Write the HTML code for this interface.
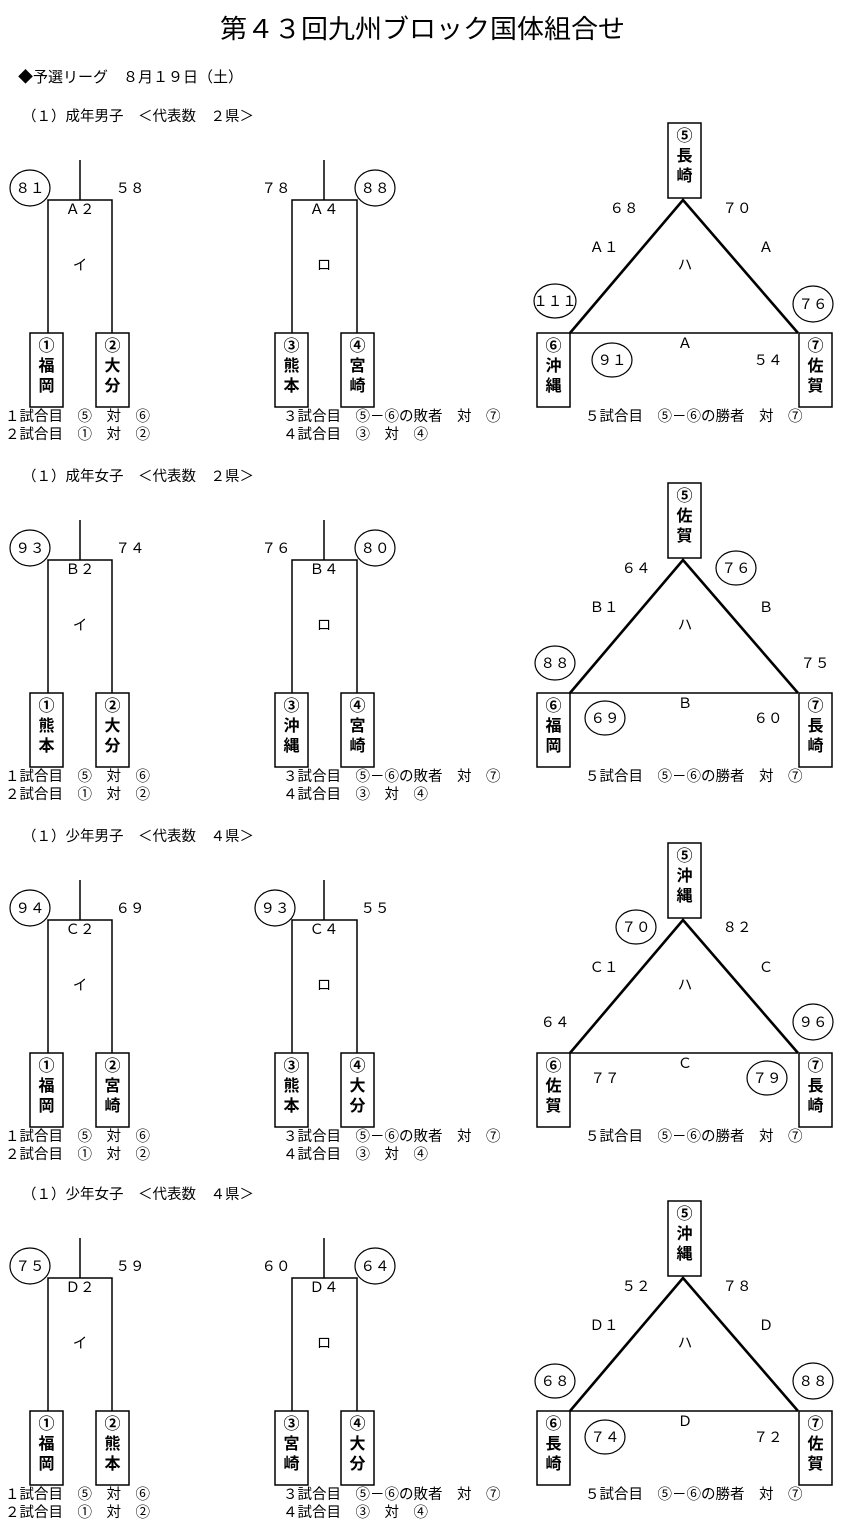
<!DOCTYPE html>
<html><head><meta charset="utf-8"><style>
html,body{margin:0;padding:0;background:#fff;}
svg{display:block;}
text{font-family:"Liberation Sans","Noto Sans CJK JP",sans-serif;fill:#000;}
.t{font-size:14.5px;}
.b{font-size:16px;font-weight:bold;text-anchor:middle;}
.c{text-anchor:middle;}
.ln{fill:none;stroke:#000;stroke-width:1.5;}
.tri{fill:none;stroke:#000;stroke-width:2.6;}
.bx{fill:#fff;stroke:#000;stroke-width:1.5;}
.ci{fill:none;stroke:#000;stroke-width:1.2;}
</style></head><body>
<svg width="848" height="1536" viewBox="0 0 848 1536" xmlns="http://www.w3.org/2000/svg">
<text x="220" y="38" style="font-size:26px" textLength="405" lengthAdjust="spacingAndGlyphs">第４３回九州ブロック国体組合せ</text>
<text x="18" y="82" style="font-size:15px">◆予選リーグ　８月１９日（土）</text>

<!-- Section 1 -->
<g>
<text x="22" y="121" class="t">（１）成年男子　＜代表数　２県＞</text>
<path class="ln" d="M80 160V200M48 333V200H112V333M324 160V200M292 333V200H357V333M570 333H798"/>
<path class="tri" d="M570 333L683 200L798 333"/>
<rect class="bx" x="30" y="333" width="33" height="74"/><text class="b" x="46.5" y="351">①</text><text class="b" x="46.5" y="371">福</text><text class="b" x="46.5" y="391">岡</text>
<rect class="bx" x="96" y="333" width="33" height="74"/><text class="b" x="112.5" y="351">②</text><text class="b" x="112.5" y="371">大</text><text class="b" x="112.5" y="391">分</text>
<rect class="bx" x="275" y="333" width="33" height="74"/><text class="b" x="291.5" y="351">③</text><text class="b" x="291.5" y="371">熊</text><text class="b" x="291.5" y="391">本</text>
<rect class="bx" x="341" y="333" width="33" height="74"/><text class="b" x="357.5" y="351">④</text><text class="b" x="357.5" y="371">宮</text><text class="b" x="357.5" y="391">崎</text>
<rect class="bx" x="668" y="123" width="33" height="75"/><text class="b" x="684.5" y="141">⑤</text><text class="b" x="684.5" y="161">長</text><text class="b" x="684.5" y="181">崎</text>
<rect class="bx" x="537" y="333" width="33" height="74"/><text class="b" x="553.5" y="351">⑥</text><text class="b" x="553.5" y="371">沖</text><text class="b" x="553.5" y="391">縄</text>
<rect class="bx" x="799" y="333" width="33" height="74"/><text class="b" x="815.5" y="351">⑦</text><text class="b" x="815.5" y="371">佐</text><text class="b" x="815.5" y="391">賀</text>
<ellipse class="ci" cx="30" cy="188" rx="20" ry="18"/><text class="t c" x="30" y="193">８１</text>
<text class="t c" x="130" y="193">５８</text><text class="t c" x="80" y="214">Ａ２</text><text class="t c" x="80" y="270">イ</text>
<text class="t c" x="276" y="193">７８</text>
<ellipse class="ci" cx="375" cy="188" rx="20" ry="18"/><text class="t c" x="375" y="193">８８</text>
<text class="t c" x="324" y="214">Ａ４</text><text class="t c" x="324" y="270">ロ</text>
<text class="t c" x="624" y="213">６８</text><text class="t c" x="737" y="213">７０</text>
<text class="t c" x="604" y="252">Ａ１</text><text class="t c" x="766" y="252">Ａ</text><text class="t c" x="685" y="270">ハ</text>
<ellipse class="ci" cx="555" cy="301" rx="21" ry="17"/><text class="t c" x="555" y="306">１１１</text>
<ellipse class="ci" cx="813" cy="304" rx="20" ry="18"/><text class="t c" x="813" y="309">７６</text>
<text class="t c" x="685" y="348">Ａ</text>
<ellipse class="ci" cx="612" cy="360" rx="20" ry="17"/><text class="t c" x="612" y="365">９１</text>
<text class="t c" x="768" y="365">５４</text>
<text x="5" y="421" class="t">１試合目　⑤　対　⑥</text><text x="5" y="439" class="t">２試合目　①　対　②</text>
<text x="283" y="421" class="t">３試合目　⑤－⑥の敗者　対　⑦</text><text x="283" y="439" class="t">４試合目　③　対　④</text>
<text x="585" y="421" class="t">５試合目　⑤－⑥の勝者　対　⑦</text>
</g>

<!-- Section 2 -->
<g transform="translate(0,360)">
<text x="22" y="121" class="t">（１）成年女子　＜代表数　２県＞</text>
<path class="ln" d="M80 160V200M48 333V200H112V333M324 160V200M292 333V200H357V333M570 333H798"/>
<path class="tri" d="M570 333L683 200L798 333"/>
<rect class="bx" x="30" y="333" width="33" height="74"/><text class="b" x="46.5" y="351">①</text><text class="b" x="46.5" y="371">熊</text><text class="b" x="46.5" y="391">本</text>
<rect class="bx" x="96" y="333" width="33" height="74"/><text class="b" x="112.5" y="351">②</text><text class="b" x="112.5" y="371">大</text><text class="b" x="112.5" y="391">分</text>
<rect class="bx" x="275" y="333" width="33" height="74"/><text class="b" x="291.5" y="351">③</text><text class="b" x="291.5" y="371">沖</text><text class="b" x="291.5" y="391">縄</text>
<rect class="bx" x="341" y="333" width="33" height="74"/><text class="b" x="357.5" y="351">④</text><text class="b" x="357.5" y="371">宮</text><text class="b" x="357.5" y="391">崎</text>
<rect class="bx" x="668" y="123" width="33" height="75"/><text class="b" x="684.5" y="141">⑤</text><text class="b" x="684.5" y="161">佐</text><text class="b" x="684.5" y="181">賀</text>
<rect class="bx" x="537" y="333" width="33" height="74"/><text class="b" x="553.5" y="351">⑥</text><text class="b" x="553.5" y="371">福</text><text class="b" x="553.5" y="391">岡</text>
<rect class="bx" x="799" y="333" width="33" height="74"/><text class="b" x="815.5" y="351">⑦</text><text class="b" x="815.5" y="371">長</text><text class="b" x="815.5" y="391">崎</text>
<ellipse class="ci" cx="30" cy="188" rx="20" ry="18"/><text class="t c" x="30" y="193">９３</text>
<text class="t c" x="130" y="193">７４</text><text class="t c" x="80" y="214">Ｂ２</text><text class="t c" x="80" y="270">イ</text>
<text class="t c" x="276" y="193">７６</text>
<ellipse class="ci" cx="375" cy="188" rx="20" ry="18"/><text class="t c" x="375" y="193">８０</text>
<text class="t c" x="324" y="214">Ｂ４</text><text class="t c" x="324" y="270">ロ</text>
<text class="t c" x="636" y="213">６４</text>
<ellipse class="ci" cx="736" cy="208" rx="20" ry="17"/><text class="t c" x="736" y="213">７６</text>
<text class="t c" x="604" y="252">Ｂ１</text><text class="t c" x="766" y="252">Ｂ</text><text class="t c" x="685" y="270">ハ</text>
<ellipse class="ci" cx="555" cy="303" rx="20" ry="17"/><text class="t c" x="555" y="308">８８</text>
<text class="t c" x="815" y="308">７５</text>
<text class="t c" x="685" y="348">Ｂ</text>
<ellipse class="ci" cx="605" cy="358" rx="20" ry="17"/><text class="t c" x="605" y="363">６９</text>
<text class="t c" x="768" y="363">６０</text>
<text x="5" y="421" class="t">１試合目　⑤　対　⑥</text><text x="5" y="439" class="t">２試合目　①　対　②</text>
<text x="283" y="421" class="t">３試合目　⑤－⑥の敗者　対　⑦</text><text x="283" y="439" class="t">４試合目　③　対　④</text>
<text x="585" y="421" class="t">５試合目　⑤－⑥の勝者　対　⑦</text>
</g>

<!-- Section 3 -->
<g transform="translate(0,720)">
<text x="22" y="121" class="t">（１）少年男子　＜代表数　４県＞</text>
<path class="ln" d="M80 160V200M48 333V200H112V333M324 160V200M292 333V200H357V333M570 333H798"/>
<path class="tri" d="M570 333L683 200L798 333"/>
<rect class="bx" x="30" y="333" width="33" height="74"/><text class="b" x="46.5" y="351">①</text><text class="b" x="46.5" y="371">福</text><text class="b" x="46.5" y="391">岡</text>
<rect class="bx" x="96" y="333" width="33" height="74"/><text class="b" x="112.5" y="351">②</text><text class="b" x="112.5" y="371">宮</text><text class="b" x="112.5" y="391">崎</text>
<rect class="bx" x="275" y="333" width="33" height="74"/><text class="b" x="291.5" y="351">③</text><text class="b" x="291.5" y="371">熊</text><text class="b" x="291.5" y="391">本</text>
<rect class="bx" x="341" y="333" width="33" height="74"/><text class="b" x="357.5" y="351">④</text><text class="b" x="357.5" y="371">大</text><text class="b" x="357.5" y="391">分</text>
<rect class="bx" x="668" y="123" width="33" height="75"/><text class="b" x="684.5" y="141">⑤</text><text class="b" x="684.5" y="161">沖</text><text class="b" x="684.5" y="181">縄</text>
<rect class="bx" x="537" y="333" width="33" height="74"/><text class="b" x="553.5" y="351">⑥</text><text class="b" x="553.5" y="371">佐</text><text class="b" x="553.5" y="391">賀</text>
<rect class="bx" x="799" y="333" width="33" height="74"/><text class="b" x="815.5" y="351">⑦</text><text class="b" x="815.5" y="371">長</text><text class="b" x="815.5" y="391">崎</text>
<ellipse class="ci" cx="30" cy="188" rx="20" ry="18"/><text class="t c" x="30" y="193">９４</text>
<text class="t c" x="130" y="193">６９</text><text class="t c" x="80" y="214">Ｃ２</text><text class="t c" x="80" y="270">イ</text>
<ellipse class="ci" cx="275" cy="188" rx="20" ry="18"/><text class="t c" x="275" y="193">９３</text>
<text class="t c" x="375" y="193">５５</text>
<text class="t c" x="324" y="214">Ｃ４</text><text class="t c" x="324" y="270">ロ</text>
<ellipse class="ci" cx="636" cy="207" rx="20" ry="17"/><text class="t c" x="636" y="212">７０</text>
<text class="t c" x="737" y="212">８２</text>
<text class="t c" x="604" y="252">Ｃ１</text><text class="t c" x="766" y="252">Ｃ</text><text class="t c" x="685" y="270">ハ</text>
<text class="t c" x="555" y="307">６４</text>
<ellipse class="ci" cx="813" cy="302" rx="20" ry="18"/><text class="t c" x="813" y="307">９６</text>
<text class="t c" x="685" y="348">Ｃ</text>
<text class="t c" x="605" y="363">７７</text>
<ellipse class="ci" cx="767" cy="358" rx="20" ry="17"/><text class="t c" x="767" y="363">７９</text>
<text x="5" y="421" class="t">１試合目　⑤　対　⑥</text><text x="5" y="439" class="t">２試合目　①　対　②</text>
<text x="283" y="421" class="t">３試合目　⑤－⑥の敗者　対　⑦</text><text x="283" y="439" class="t">４試合目　③　対　④</text>
<text x="585" y="421" class="t">５試合目　⑤－⑥の勝者　対　⑦</text>
</g>

<!-- Section 4 -->
<g transform="translate(0,1078)">
<text x="22" y="121" class="t">（１）少年女子　＜代表数　４県＞</text>
<path class="ln" d="M80 160V200M48 333V200H112V333M324 160V200M292 333V200H357V333M570 333H798"/>
<path class="tri" d="M570 333L683 200L798 333"/>
<rect class="bx" x="30" y="333" width="33" height="74"/><text class="b" x="46.5" y="351">①</text><text class="b" x="46.5" y="371">福</text><text class="b" x="46.5" y="391">岡</text>
<rect class="bx" x="96" y="333" width="33" height="74"/><text class="b" x="112.5" y="351">②</text><text class="b" x="112.5" y="371">熊</text><text class="b" x="112.5" y="391">本</text>
<rect class="bx" x="275" y="333" width="33" height="74"/><text class="b" x="291.5" y="351">③</text><text class="b" x="291.5" y="371">宮</text><text class="b" x="291.5" y="391">崎</text>
<rect class="bx" x="341" y="333" width="33" height="74"/><text class="b" x="357.5" y="351">④</text><text class="b" x="357.5" y="371">大</text><text class="b" x="357.5" y="391">分</text>
<rect class="bx" x="668" y="123" width="33" height="75"/><text class="b" x="684.5" y="141">⑤</text><text class="b" x="684.5" y="161">沖</text><text class="b" x="684.5" y="181">縄</text>
<rect class="bx" x="537" y="333" width="33" height="74"/><text class="b" x="553.5" y="351">⑥</text><text class="b" x="553.5" y="371">長</text><text class="b" x="553.5" y="391">崎</text>
<rect class="bx" x="799" y="333" width="33" height="74"/><text class="b" x="815.5" y="351">⑦</text><text class="b" x="815.5" y="371">佐</text><text class="b" x="815.5" y="391">賀</text>
<ellipse class="ci" cx="30" cy="188" rx="20" ry="18"/><text class="t c" x="30" y="193">７５</text>
<text class="t c" x="130" y="193">５９</text><text class="t c" x="80" y="214">Ｄ２</text><text class="t c" x="80" y="270">イ</text>
<text class="t c" x="276" y="193">６０</text>
<ellipse class="ci" cx="375" cy="188" rx="20" ry="18"/><text class="t c" x="375" y="193">６４</text>
<text class="t c" x="324" y="214">Ｄ４</text><text class="t c" x="324" y="270">ロ</text>
<text class="t c" x="636" y="213">５２</text><text class="t c" x="737" y="213">７８</text>
<text class="t c" x="604" y="252">Ｄ１</text><text class="t c" x="766" y="252">Ｄ</text><text class="t c" x="685" y="270">ハ</text>
<ellipse class="ci" cx="555" cy="303" rx="20" ry="17"/><text class="t c" x="555" y="308">６８</text>
<ellipse class="ci" cx="813" cy="303" rx="20" ry="18"/><text class="t c" x="813" y="308">８８</text>
<text class="t c" x="685" y="348">Ｄ</text>
<ellipse class="ci" cx="605" cy="359" rx="20" ry="17"/><text class="t c" x="605" y="364">７４</text>
<text class="t c" x="768" y="364">７２</text>
<text x="5" y="421" class="t">１試合目　⑤　対　⑥</text><text x="5" y="439" class="t">２試合目　①　対　②</text>
<text x="283" y="421" class="t">３試合目　⑤－⑥の敗者　対　⑦</text><text x="283" y="439" class="t">４試合目　③　対　④</text>
<text x="585" y="421" class="t">５試合目　⑤－⑥の勝者　対　⑦</text>
</g>
</svg>
</body></html>
